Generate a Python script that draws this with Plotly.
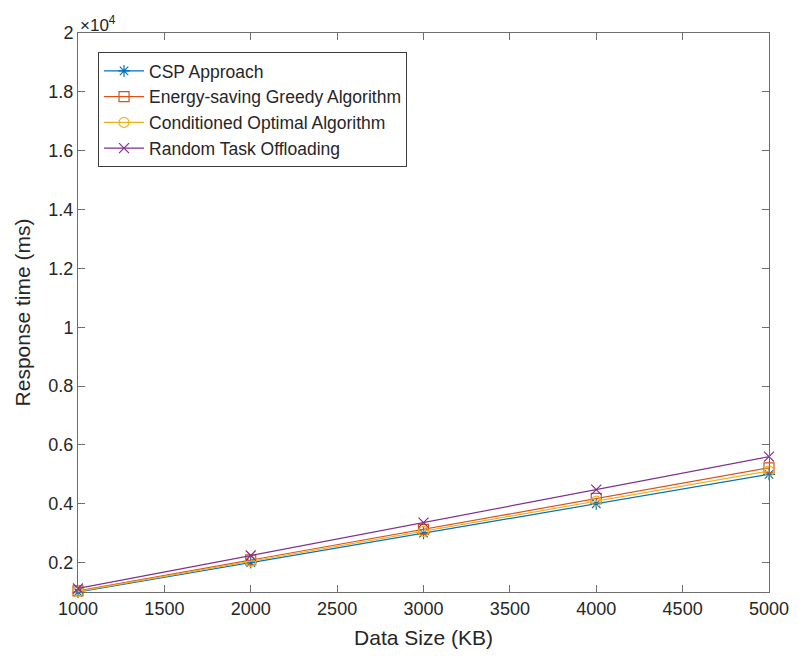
import plotly.graph_objects as go

# Data size (KB) on the x axis
data_size = [1000, 2000, 3000, 4000, 5000]

# Response time (ms) per approach
csp_approach = [1000, 2000, 3000, 4000, 5000]
greedy_energy = [1040, 2090, 3130, 4180, 5220]
conditioned_optimal = [1020, 2040, 3060, 4090, 5110]
random_offloading = [1120, 2240, 3360, 4480, 5600]

series_names = [
    "CSP Approach",
    "Energy-saving Greedy Algorithm",
    "Conditioned Optimal Algorithm",
    "Random Task Offloading",
]
series_values = [csp_approach, greedy_energy, conditioned_optimal, random_offloading]
series_colors = ["#0072BD", "#D95319", "#EDB120", "#7E2F8E"]
series_symbols = ["asterisk-open", "square-open", "circle-open", "x-thin-open"]

# y ticks shown in units of 10^4
y_tickvals = [2000, 4000, 6000, 8000, 10000, 12000, 14000, 16000, 18000, 20000]
y_ticktext = ["0.2", "0.4", "0.6", "0.8", "1", "1.2", "1.4", "1.6", "1.8", "2"]
x_tickvals = [1000, 1500, 2000, 2500, 3000, 3500, 4000, 4500, 5000]

fig = go.Figure()
for name, vals, color, sym in zip(series_names, series_values, series_colors, series_symbols):
    fig.add_trace(go.Scatter(
        x=data_size, y=vals, name=name, mode="lines+markers",
        line=dict(color=color, width=1.2),
        marker=dict(symbol=sym, size=10, color=color, line=dict(color=color, width=1.2)),
        cliponaxis=False,
    ))

axis_color = "#6e6e6e"
font_family = "Liberation Sans, Arial, sans-serif"

fig.update_layout(
    width=801, height=658,
    margin=dict(l=78, r=25, t=33, b=66),
    paper_bgcolor="white", plot_bgcolor="white",
    font=dict(family=font_family, size=18, color="#262626"),
    showlegend=True,
    legend=dict(
        x=0.029, y=0.966, xanchor="left", yanchor="top",
        bgcolor="white", bordercolor="#3c3c3c", borderwidth=1,
        font=dict(size=17.5, color="#262626"),
        tracegroupgap=0, itemwidth=40,
    ),
    xaxis=dict(
        range=[1000, 5000], tickvals=x_tickvals,
        ticks="inside", ticklen=7, tickcolor=axis_color,
        showline=True, linecolor=axis_color, linewidth=1, mirror="ticks",
        showgrid=False, zeroline=False,
        title=dict(text="Data Size (KB)", font=dict(size=21), standoff=12),
        tickfont=dict(size=18),
    ),
    yaxis=dict(
        range=[1000, 20000], tickvals=y_tickvals, ticktext=y_ticktext,
        ticks="inside", ticklen=7, tickcolor=axis_color,
        showline=True, linecolor=axis_color, linewidth=1, mirror="ticks",
        showgrid=False, zeroline=False,
        title=dict(text="Response time (ms)", font=dict(size=21), standoff=12),
        tickfont=dict(size=18),
    ),
)

# Exponent label for the y axis
fig.add_annotation(
    text="×10<sup>4</sup>", xref="paper", yref="paper",
    x=0.0, y=1.0, xanchor="left", yanchor="bottom",
    showarrow=False, font=dict(size=17, color="#262626"),
    yshift=-4,
)

fig.write_html("out.html")
